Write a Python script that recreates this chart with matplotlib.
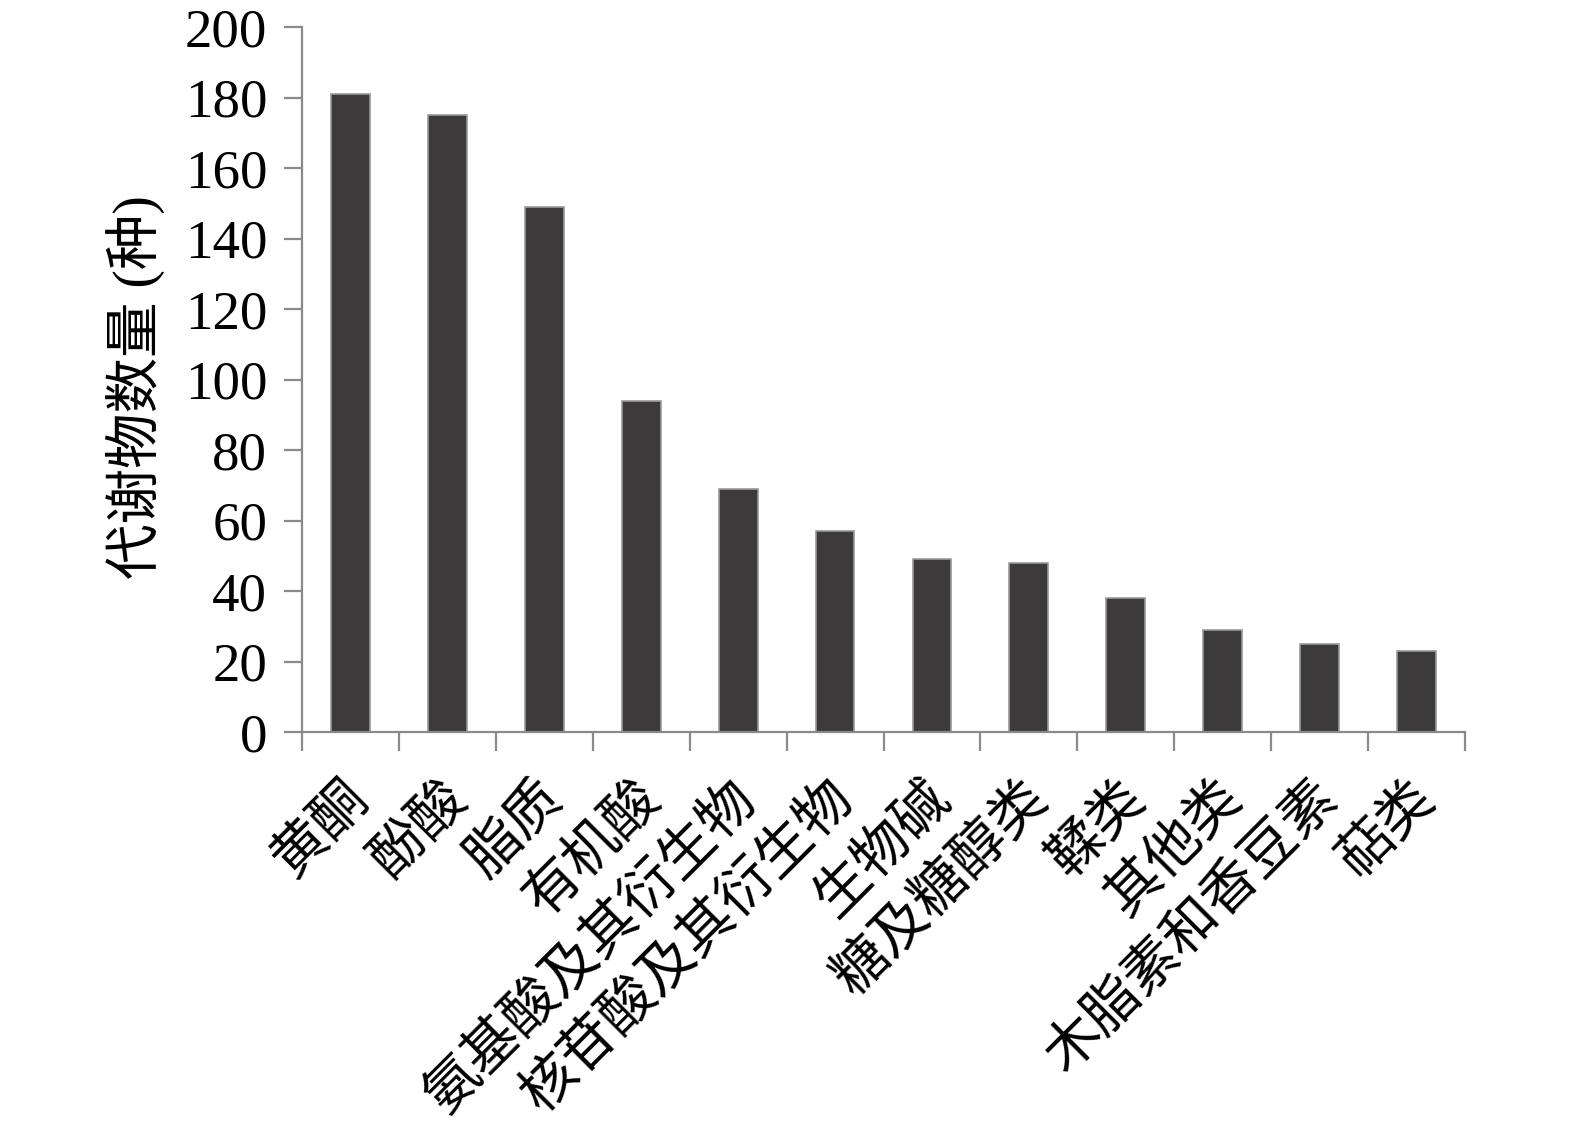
import matplotlib
matplotlib.use('Agg')
import matplotlib.pyplot as plt
import matplotlib.transforms as mtransforms
import numpy as np

# 代谢物分类及数量
categories = ['黄酮', '酚酸', '脂质', '有机酸', '氨基酸及其衍生物', '核苷酸及其衍生物',
              '生物碱', '糖及糖醇类', '鞣类', '其他类', '木脂素和香豆素', '萜类']
counts = [181, 175, 149, 94, 69, 57, 49, 48, 38, 29, 25, 23]
y_ticks = [0, 20, 40, 60, 80, 100, 120, 140, 160, 180, 200]
y_label = '代谢物数量 (种)'

plt.rcParams['font.family'] = ['Liberation Serif', 'Noto Sans CJK SC']

fig = plt.figure(figsize=(15.75, 11.25), dpi=100)
ax = fig.add_axes([302 / 1575, 1 - 732 / 1125, 1163 / 1575, 705 / 1125])

x = np.arange(len(categories))
ax.bar(x, counts, width=0.4, color='#3d3a3b', edgecolor='#9a9a9a', linewidth=1.2)

ax.set_xlim(-0.5, len(categories) - 0.5)
ax.set_ylim(0, 200)
ax.set_yticks(y_ticks)
ax.set_yticklabels([str(v) for v in y_ticks], fontsize=39.5)

# 类别刻度在柱子之间
ax.set_xticks(np.arange(-0.5, len(categories), 1.0), minor=True)
ax.set_xticks(x)
ax.set_xticklabels(categories, fontsize=40, rotation=45, ha='right', va='center',
                   rotation_mode='anchor')
ax.tick_params(axis='x', which='major', length=0, pad=42)
ax.tick_params(axis='x', which='minor', length=14, width=1.6, color='#8a8a8a', direction='out')
ax.tick_params(axis='y', length=13, width=1.6, color='#8a8a8a', direction='out', pad=12)

# 标签整体右移一点
shift = mtransforms.ScaledTranslation(11 / 100, 0, fig.dpi_scale_trans)
for lab in ax.get_xticklabels():
    lab.set_transform(lab.get_transform() + shift)

for s in ['top', 'right']:
    ax.spines[s].set_visible(False)
for s in ['left', 'bottom']:
    ax.spines[s].set_color('#8a8a8a')
    ax.spines[s].set_linewidth(1.6)

fig.text(135 / 1575, 1 - 387 / 1125, y_label, rotation=90, fontsize=40,
         ha='center', va='center')

fig.savefig('out.png', dpi=100, facecolor='white')
